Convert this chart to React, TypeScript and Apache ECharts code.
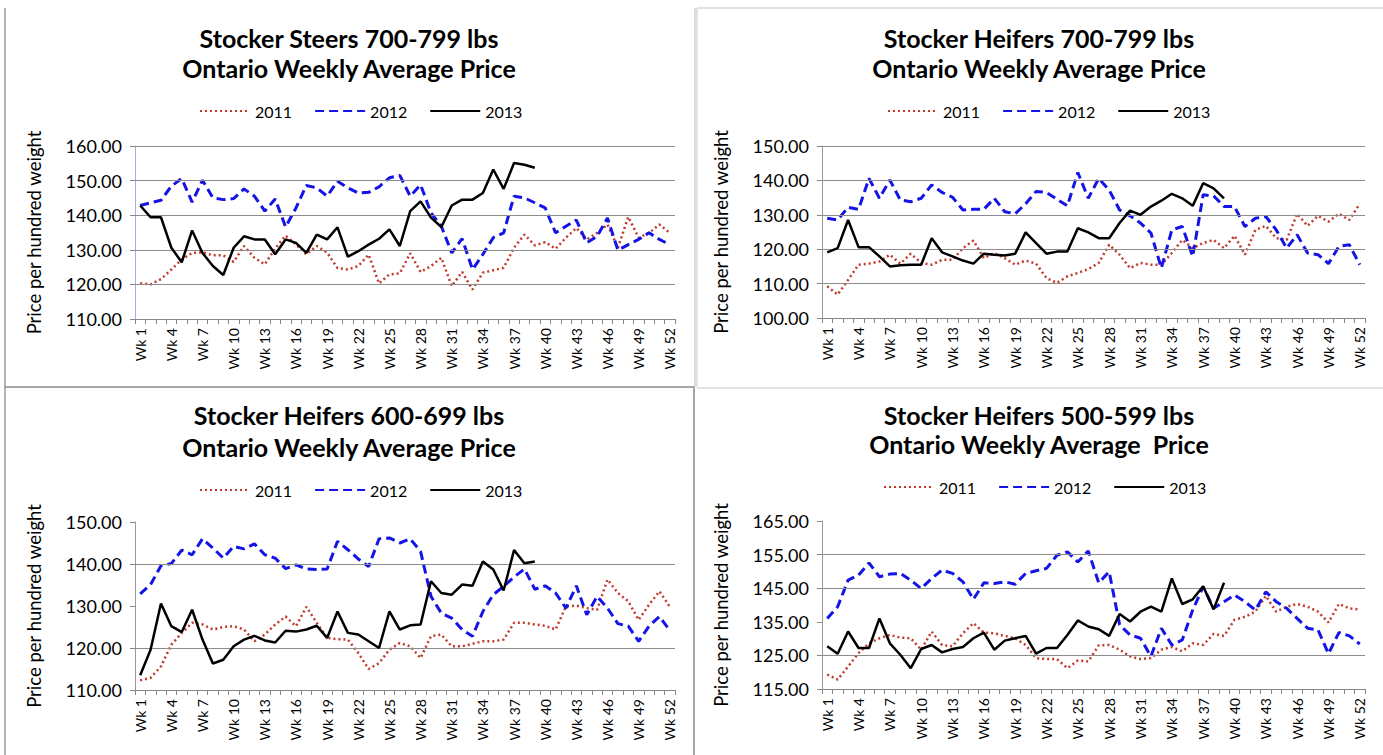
import React, { useEffect, useRef } from 'react';
import * as echarts from 'echarts';

const weeks = Array.from({ length: 52 }, (_, i) => `Wk ${i + 1}`);
const years = ['2011', '2012', '2013'];

// Panel 1: Stocker Steers 700-799 lbs
const steers700_2011 = [120.3, 120.0, 121.5, 124.3, 127.2, 129.1, 129.3, 128.4, 128.4, 126.5, 131.1, 127.7, 125.8, 130.4, 134.1, 131.5, 128.7, 131.1, 129.2, 124.7, 124.3, 125.3, 128.6, 120.3, 122.9, 123.2, 129.0, 123.6, 125.3, 127.7, 119.5, 123.6, 118.5, 123.4, 124.1, 124.8, 130.6, 134.4, 131.3, 132.2, 130.3, 133.5, 136.3, 133.0, 134.9, 137.3, 130.6, 139.5, 133.5, 134.9, 137.3, 134.9];
const steers700_2012 = [142.8, 143.6, 144.3, 148.4, 150.6, 143.8, 150.1, 145.0, 144.5, 144.8, 147.6, 145.5, 141.2, 144.7, 136.6, 142.1, 148.6, 147.9, 145.5, 149.8, 147.9, 146.4, 146.6, 148.2, 150.8, 151.5, 145.5, 148.8, 140.7, 136.8, 129.1, 133.2, 124.3, 128.7, 133.5, 134.9, 145.5, 145.0, 143.6, 142.1, 134.9, 136.8, 138.6, 132.0, 133.9, 139.2, 129.9, 131.5, 133.0, 134.9, 133.0, 131.5];
const steers700_2013 = [142.8, 139.4, 139.4, 130.6, 126.4, 135.6, 129.1, 125.3, 122.7, 130.6, 133.9, 133.0, 133.0, 128.7, 133.0, 132.0, 129.1, 134.4, 133.0, 136.5, 128.0, 129.6, 131.5, 133.2, 135.9, 131.1, 141.2, 144.0, 139.3, 136.6, 142.8, 144.5, 144.5, 146.4, 153.2, 147.6, 155.1, 154.6, 153.7];

// Panel 2: Stocker Heifers 700-799 lbs
const heifers700_2011 = [109.2, 106.8, 111.1, 115.5, 115.8, 116.4, 118.4, 115.8, 118.7, 116.0, 115.5, 116.9, 116.9, 120.3, 122.5, 117.4, 118.9, 117.4, 115.5, 116.7, 115.8, 111.6, 110.2, 112.1, 113.1, 114.2, 116.0, 121.3, 118.4, 114.5, 116.0, 115.5, 115.5, 118.9, 122.7, 120.3, 121.8, 122.7, 120.3, 123.9, 118.4, 125.6, 126.8, 123.2, 122.7, 130.3, 126.8, 129.7, 128.0, 130.3, 128.5, 133.2];
const heifers700_2012 = [129.0, 128.5, 132.2, 131.6, 140.6, 134.8, 140.1, 134.3, 133.8, 134.8, 138.7, 136.5, 135.1, 131.4, 131.6, 131.6, 134.8, 130.9, 130.3, 133.2, 136.8, 136.5, 134.5, 132.6, 142.3, 134.8, 140.6, 137.2, 131.4, 129.7, 127.6, 124.7, 114.5, 125.6, 126.6, 117.9, 135.8, 135.5, 132.4, 132.4, 126.6, 129.0, 129.5, 125.6, 120.3, 124.2, 118.9, 118.4, 115.8, 120.8, 121.3, 115.5];
const heifers700_2013 = [119.1, 120.3, 128.5, 120.6, 120.6, 117.9, 115.0, 115.3, 115.5, 115.5, 123.2, 119.1, 117.9, 116.7, 115.8, 118.7, 118.4, 118.2, 118.7, 124.9, 121.8, 118.7, 119.3, 119.3, 126.1, 124.9, 123.2, 123.2, 127.6, 131.2, 130.0, 132.4, 134.1, 136.1, 134.8, 132.6, 139.2, 137.7, 134.8];

// Panel 3: Stocker Heifers 600-699 lbs
const heifers600_2011 = [112.3, 112.9, 115.6, 120.8, 123.6, 126.0, 125.6, 124.4, 125.0, 125.2, 124.4, 121.6, 123.2, 125.6, 127.5, 125.2, 129.8, 126.0, 122.4, 122.1, 122.0, 118.8, 115.0, 116.4, 119.6, 121.2, 120.4, 117.6, 122.8, 123.2, 120.4, 120.4, 121.0, 121.6, 121.6, 122.0, 126.0, 126.0, 125.6, 125.3, 124.4, 129.9, 130.1, 129.5, 129.1, 136.3, 133.1, 131.1, 126.7, 130.3, 133.5, 129.8];
const heifers600_2012 = [132.9, 135.1, 139.6, 140.1, 143.3, 142.2, 146.0, 143.8, 141.4, 144.2, 143.6, 144.8, 142.2, 141.4, 138.9, 139.8, 138.8, 138.7, 138.8, 145.4, 143.4, 141.2, 139.4, 146.0, 146.2, 145.0, 146.0, 143.0, 132.3, 128.3, 127.1, 124.4, 122.8, 128.7, 132.7, 134.7, 136.9, 138.8, 134.0, 134.8, 133.1, 129.5, 134.8, 127.9, 132.3, 129.5, 125.8, 125.2, 121.6, 125.2, 127.5, 124.2];
const heifers600_2013 = [113.5, 119.6, 130.6, 125.2, 123.8, 129.1, 122.0, 116.3, 117.2, 120.4, 122.0, 122.9, 121.8, 121.3, 124.1, 123.9, 124.4, 125.3, 122.4, 128.7, 123.6, 123.2, 121.6, 120.0, 128.7, 124.4, 125.4, 125.6, 135.9, 133.1, 132.7, 135.1, 134.8, 140.6, 138.7, 133.7, 143.3, 140.2, 140.6];

// Panel 4: Stocker Heifers 500-599 lbs
const heifers500_2011 = [119.3, 117.8, 121.7, 125.7, 128.6, 130.1, 131.1, 130.3, 130.1, 126.7, 132.1, 128.1, 127.7, 131.6, 134.6, 131.8, 131.6, 130.8, 130.1, 128.1, 124.2, 123.9, 123.9, 121.2, 123.5, 123.2, 128.0, 128.1, 126.7, 124.7, 123.9, 124.2, 126.7, 127.5, 126.2, 128.6, 128.1, 131.4, 130.8, 135.6, 136.5, 138.0, 142.7, 138.0, 139.5, 140.3, 139.5, 138.0, 134.8, 140.3, 139.0, 138.7];
const heifers500_2012 = [136.0, 139.5, 147.4, 148.9, 152.5, 148.4, 149.2, 149.4, 147.4, 144.9, 147.9, 150.4, 149.4, 146.9, 141.7, 146.6, 146.4, 146.9, 146.2, 149.4, 150.2, 150.9, 154.8, 155.8, 152.8, 156.1, 146.6, 149.9, 134.1, 131.1, 130.1, 124.7, 133.1, 128.1, 129.6, 138.5, 145.4, 139.0, 141.0, 143.0, 141.0, 138.5, 143.9, 141.0, 139.0, 136.0, 133.1, 132.6, 125.5, 131.8, 130.8, 128.4];
const heifers500_2013 = [127.7, 125.5, 132.1, 127.2, 127.2, 136.0, 128.6, 125.2, 121.2, 126.9, 128.1, 125.9, 126.9, 127.5, 130.1, 131.8, 126.7, 129.4, 130.1, 130.8, 125.5, 127.2, 127.2, 131.1, 135.4, 133.6, 132.8, 130.8, 137.3, 135.1, 138.0, 139.5, 138.0, 147.9, 140.3, 141.7, 145.6, 138.7, 146.6];

// Axis ranges and gridline values (as drawn in the reference)
const yMins = [110, 100, 110, 115];
const yMaxs = [160, 150, 150, 165];
const gridLines1 = [120, 130, 140, 150, 160];
const gridLines2 = [110, 120, 130, 140, 150];
const gridLines3 = [120, 140];
const gridLines4 = [125, 145, 155];

const titles = [
  ['Stocker Steers 700-799 lbs', 'Ontario Weekly Average Price'],
  ['Stocker Heifers 700-799 lbs', 'Ontario Weekly Average Price'],
  ['Stocker Heifers 600-699 lbs', 'Ontario Weekly Average Price'],
  ['Stocker Heifers 500-599 lbs', 'Ontario Weekly Average  Price'],
];

const panelData = [
  [steers700_2011, steers700_2012, steers700_2013],
  [heifers700_2011, heifers700_2012, heifers700_2013],
  [heifers600_2011, heifers600_2012, heifers600_2013],
  [heifers500_2011, heifers500_2012, heifers500_2013],
];
const panelGridLines = [gridLines1, gridLines2, gridLines3, gridLines4];

// layout (pixels)
const gridRects = [
  { left: 135, top: 146, width: 540, height: 173 },
  { left: 822, top: 146, width: 543, height: 172 },
  { left: 135, top: 522, width: 540, height: 168 },
  { left: 822, top: 521, width: 543, height: 168 },
];
const titlePos = [
  { x: 349, y1: 38, y2: 68 },
  { x: 1039, y1: 38, y2: 68 },
  { x: 349, y1: 415, y2: 447 },
  { x: 1039, y1: 415, y2: 444 },
];
const legendPos = [
  { left: 194, top: 98 },
  { left: 882, top: 98 },
  { left: 194, top: 477 },
  { left: 878, top: 474 },
];

const FONT = 'Lato';
const lineStyles = [
  { color: '#c0392b', width: 2.5, type: [2, 3] },
  { color: '#1414e6', width: 3, type: [9, 5] },
  { color: '#000000', width: 2.5, type: 'solid' },
];

export default function App() {
  const ref = useRef<HTMLDivElement>(null);
  useEffect(() => {
    if (!ref.current) return;
    const chart = echarts.init(ref.current, undefined, { renderer: 'svg' });

    const series: any[] = [];
    panelData.forEach((sets, p) => {
      series.push({
        type: 'line',
        name: 'grid' + p,
        xAxisIndex: p,
        yAxisIndex: p,
        data: [],
        silent: true,
        z: 1,
        markLine: {
          silent: true,
          symbol: ['none', 'none'],
          label: { show: false },
          lineStyle: { color: '#8c8c8c', width: 1.2, type: 'solid' },
          emphasis: { disabled: true },
          data: panelGridLines[p].map((v) => ({ yAxis: v })),
        },
      });
      sets.forEach((d, k) => {
        series.push({
          type: 'line',
          name: years[k],
          xAxisIndex: p,
          yAxisIndex: p,
          data: d,
          symbol: 'none',
          z: 3 + k,
          lineStyle: { ...lineStyles[k] },
          itemStyle: { color: lineStyles[k].color },
          emphasis: { disabled: true },
        });
      });
    });

    const graphics: any[] = [];
    titles.forEach((t, p) => {
      [t[0], t[1]].forEach((txt, j) => {
        graphics.push({
          type: 'text',
          x: titlePos[p].x,
          y: j === 0 ? titlePos[p].y1 : titlePos[p].y2,
          style: {
            text: txt,
            font: `bold 25px ${FONT}`,
            fill: '#000',
            textAlign: 'center',
            textVerticalAlign: 'middle',
            align: 'center',
            verticalAlign: 'middle',
          },
        });
      });
    });
    const borders = [
      [5, 8, 5, 755, '#9a9a9a'],
      [695, 8, 695, 387, '#d0d0d0'],
      [694, 387, 694, 755, '#8a8a8a'],
      [5, 387, 694, 387, '#8a8a8a'],
      [697, 8, 1383, 8, '#d8d8d8'],
      [697, 8, 697, 387, '#d8d8d8'],
      [697, 388, 1383, 388, '#d8d8d8'],
    ];
    borders.forEach((b) => {
      graphics.push({
        type: 'line',
        shape: { x1: b[0], y1: b[1], x2: b[2], y2: b[3] },
        style: { stroke: b[4], lineWidth: 1.5 },
        silent: true,
      });
    });

    chart.setOption({
      animation: false,
      backgroundColor: '#ffffff',
      grid: gridRects.map((g) => ({ ...g, containLabel: false })),
      legend: legendPos.map((l) => ({
        left: l.left,
        top: l.top,
        data: years,
        itemWidth: 50,
        itemHeight: 12,
        itemGap: 22,
        selectedMode: false,
        itemStyle: { opacity: 0 },
        textStyle: { fontSize: 16, fontFamily: FONT, color: '#000' },
      })),
      xAxis: gridRects.map((_, i) => ({
        type: 'category',
        gridIndex: i,
        data: weeks,
        boundaryGap: true,
        axisLine: { show: true, lineStyle: { color: '#868686', width: 1 } },
        axisTick: { show: true, interval: 0, length: 5, lineStyle: { color: '#868686' } },
        axisLabel: {
          interval: 2,
          rotate: 90,
          fontSize: 14,
          fontFamily: FONT,
          color: '#000',
          margin: 9,
        },
        splitLine: { show: false },
      })),
      yAxis: gridRects.map((_, i) => ({
        type: 'value',
        gridIndex: i,
        min: yMins[i],
        max: yMaxs[i],
        interval: 10,
        name: 'Price per hundred weight',
        nameLocation: 'middle',
        nameGap: 92,
        nameRotate: 90,
        nameTextStyle: { fontSize: 18.5, fontFamily: FONT, color: '#000' },
        axisLine: { show: true, lineStyle: { color: i === 0 ? '#9fb4d4' : '#9a9a9a', width: 1 } },
        axisTick: { show: true, length: 5, lineStyle: { color: '#868686' } },
        axisLabel: {
          formatter: (v: number) => v.toFixed(2),
          fontSize: 18,
          fontFamily: FONT,
          color: '#000',
          margin: 13,
        },
        splitLine: { show: false },
      })),
      series,
      graphic: { elements: graphics },
    });

    return () => chart.dispose();
  }, []);

  return (
    <div
      ref={ref}
      style={{ position: 'absolute', left: 0, top: 0, width: 1383, height: 755, background: '#fff' }}
    />
  );
}
